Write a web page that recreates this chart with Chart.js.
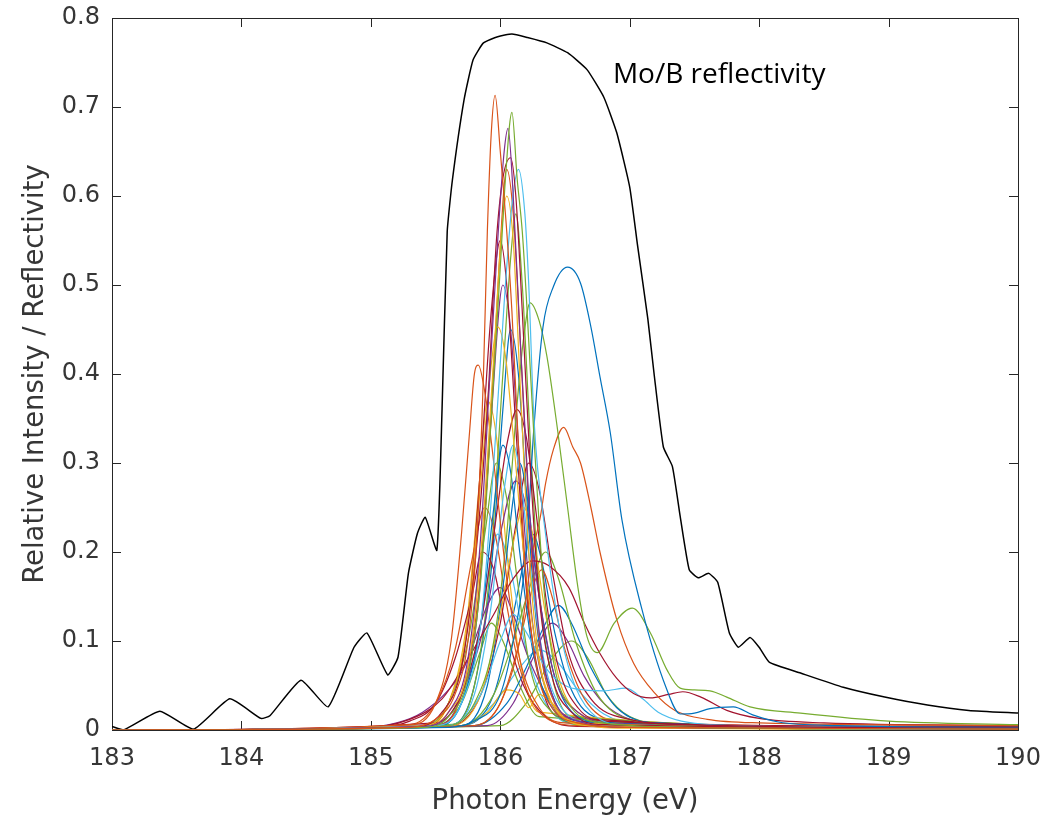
<!DOCTYPE html>
<html><head><meta charset="utf-8">
<script src="https://cdn.jsdelivr.net/npm/chart.js@4/dist/chart.umd.min.js"></script>
<style>html,body{margin:0;padding:0;background:#fff;}#wrap{width:1064px;height:820px;}</style>
</head><body><div id="wrap"><canvas id="c" width="1064" height="820"></canvas></div>
<script>
// ---- axis ticks ----
const xTickValues = [183,184,185,186,187,188,189,190];
const xTickLabels = ['183','184','185','186','187','188','189','190'];
const yTickValues = [0,0.1,0.2,0.3,0.4,0.5,0.6,0.7,0.8];
const yTickLabels = ['0','0.1','0.2','0.3','0.4','0.5','0.6','0.7','0.8'];
const xTitle = 'Photon Energy (eV)';
const yTitle = 'Relative Intensity / Reflectivity';
const annotationText = 'Mo/B reflectivity';
const annotationPos = [186.87, 0.736];

// ---- Mo/B reflectivity (black) ----
const moBEnergy = [183.0,183.09,183.37,183.63,183.91,184.15,184.22,184.46,184.67,184.87,184.97,185.13,185.21,185.29,185.36,185.42,185.51,185.55,185.59,185.63,185.72,185.79,185.87,185.98,186.09,186.21,186.36,186.52,186.67,186.80,186.90,187.0,187.06,187.14,187.19,187.26,187.33,187.39,187.46,187.53,187.61,187.68,187.77,187.84,187.93,188.0,188.08,188.32,188.65,188.97,189.3,189.62,190.0];
const moBReflectivity = [0.004,0.0,0.021,0.001,0.035,0.013,0.016,0.056,0.026,0.093,0.109,0.062,0.082,0.176,0.221,0.239,0.202,0.36,0.56,0.618,0.708,0.753,0.772,0.779,0.782,0.778,0.772,0.761,0.742,0.711,0.671,0.610,0.545,0.462,0.398,0.318,0.296,0.240,0.180,0.171,0.176,0.166,0.109,0.093,0.104,0.093,0.076,0.064,0.048,0.037,0.028,0.022,0.019];

// ---- relative intensity spectra: [energy, intensity] ----
const s01 = [[183,0],[185.3,0.003],[185.5,0.012],[185.65,0.04],[185.75,0.1],[185.82,0.22],[185.87,0.4],[185.9,0.56],[185.93,0.67],[185.96,0.713],[186.0,0.65],[186.05,0.56],[186.09,0.47],[186.14,0.32],[186.2,0.17],[186.28,0.07],[186.4,0.025],[186.6,0.008],[187,0.003],[190,0.001]];
const s02 = [[183,0],[185.4,0.003],[185.6,0.015],[185.75,0.06],[185.85,0.17],[185.93,0.35],[186.0,0.52],[186.04,0.62],[186.09,0.694],[186.13,0.62],[186.17,0.56],[186.2,0.49],[186.26,0.33],[186.33,0.17],[186.42,0.07],[186.55,0.025],[186.8,0.008],[187.5,0.003],[190,0.001]];
const s03 = [[183,0],[185.4,0.004],[185.6,0.02],[185.75,0.08],[185.85,0.22],[185.92,0.4],[185.98,0.55],[186.03,0.65],[186.06,0.676],[186.1,0.6],[186.15,0.45],[186.22,0.26],[186.3,0.11],[186.4,0.04],[186.6,0.01],[187,0.003],[190,0.001]];
const s04 = [[183,0],[185.3,0.003],[185.55,0.02],[185.7,0.07],[185.8,0.18],[185.9,0.36],[185.97,0.55],[186.02,0.62],[186.08,0.643],[186.12,0.6],[186.17,0.47],[186.23,0.3],[186.3,0.15],[186.4,0.06],[186.55,0.02],[186.8,0.006],[190,0.002]];
const s05 = [[183,0],[185.5,0.005],[185.7,0.03],[185.85,0.12],[185.95,0.3],[186.03,0.48],[186.09,0.59],[186.14,0.63],[186.19,0.58],[186.22,0.5],[186.26,0.35],[186.35,0.22],[186.45,0.12],[186.55,0.06],[186.7,0.02],[187,0.005],[190,0.001]];
const s06 = [[183,0],[185.4,0.003],[185.6,0.02],[185.75,0.07],[185.85,0.2],[185.95,0.42],[186.01,0.56],[186.05,0.6],[186.1,0.55],[186.15,0.4],[186.22,0.2],[186.3,0.08],[186.45,0.02],[186.7,0.005],[190,0.001]];
const s07 = [[183,0],[185.4,0.005],[185.6,0.03],[185.75,0.12],[185.85,0.28],[185.93,0.41],[185.98,0.453],[186.04,0.42],[186.1,0.33],[186.18,0.2],[186.28,0.09],[186.4,0.03],[186.6,0.008],[190,0.001]];
const s08 = [[183,0],[185.3,0.006],[185.5,0.03],[185.62,0.1],[185.7,0.22],[185.76,0.33],[185.8,0.4],[185.83,0.41],[185.88,0.38],[185.95,0.3],[186.05,0.17],[186.15,0.08],[186.3,0.025],[186.5,0.008],[190,0.001]];
const s09 = [[183,0],[185.6,0.003],[185.8,0.01],[186.0,0.04],[186.1,0.1],[186.2,0.2],[186.26,0.34],[186.33,0.453],[186.41,0.498],[186.52,0.52],[186.62,0.502],[186.7,0.453],[186.77,0.397],[186.85,0.334],[186.94,0.236],[187.09,0.138],[187.28,0.048],[187.39,0.018],[187.5,0.019],[187.62,0.024],[187.8,0.026],[187.95,0.017],[188.15,0.009],[188.6,0.005],[190,0.003]];
const s10 = [[183,0],[185.6,0.005],[185.8,0.03],[185.95,0.1],[186.05,0.22],[186.12,0.35],[186.18,0.44],[186.23,0.48],[186.3,0.46],[186.36,0.42],[186.44,0.34],[186.52,0.25],[186.6,0.16],[186.67,0.105],[186.75,0.087],[186.88,0.12],[187.02,0.137],[187.16,0.109],[187.29,0.067],[187.39,0.047],[187.5,0.045],[187.62,0.044],[187.75,0.037],[187.93,0.026],[188.32,0.019],[189,0.01],[190,0.006]];
const s11 = [[183,0],[185.8,0.005],[186.0,0.03],[186.15,0.1],[186.25,0.2],[186.31,0.24],[186.35,0.277],[186.41,0.315],[186.49,0.34],[186.56,0.318],[186.62,0.3],[186.7,0.25],[186.77,0.2],[186.9,0.124],[187.03,0.075],[187.19,0.042],[187.35,0.022],[187.6,0.012],[188,0.008],[190,0.005]];
const s12 = [[183,0],[185.5,0.008],[185.7,0.04],[185.85,0.12],[185.95,0.22],[186.05,0.32],[186.13,0.36],[186.2,0.33],[186.28,0.24],[186.36,0.14],[186.45,0.07],[186.6,0.025],[186.8,0.01],[190,0.002]];
const s13 = [[183,0],[184.9,0.002],[185.3,0.012],[185.55,0.035],[185.75,0.08],[185.95,0.13],[186.1,0.17],[186.25,0.19],[186.37,0.185],[186.53,0.16],[186.65,0.12],[186.77,0.086],[186.9,0.058],[187.03,0.041],[187.16,0.036],[187.3,0.04],[187.41,0.043],[187.55,0.037],[187.75,0.022],[188.0,0.013],[188.5,0.008],[190,0.005]];
const s14 = [[183,0],[185.6,0.005],[185.85,0.04],[186.0,0.1],[186.1,0.13],[186.2,0.11],[186.35,0.07],[186.5,0.05],[186.65,0.045],[186.8,0.044],[186.97,0.047],[187.1,0.035],[187.22,0.02],[187.4,0.01],[187.8,0.005],[190,0.002]];
const s15 = [[183,0],[185.5,0.004],[185.7,0.03],[185.85,0.12],[185.95,0.25],[186.02,0.32],[186.08,0.29],[186.15,0.2],[186.25,0.09],[186.38,0.03],[186.6,0.008],[190,0.001]];
const s16 = [[183,0],[185.6,0.005],[185.8,0.04],[185.93,0.14],[186.03,0.27],[186.1,0.32],[186.16,0.28],[186.24,0.17],[186.35,0.07],[186.5,0.02],[186.8,0.005],[190,0.001]];
const s17 = [[183,0],[185.4,0.004],[185.6,0.03],[185.75,0.1],[185.88,0.22],[185.97,0.3],[186.05,0.26],[186.13,0.17],[186.23,0.07],[186.4,0.02],[186.7,0.005],[190,0.001]];
const s18 = [[183,0],[185.5,0.006],[185.7,0.04],[185.88,0.12],[186.0,0.22],[186.12,0.28],[186.2,0.25],[186.3,0.15],[186.42,0.06],[186.6,0.02],[187,0.005],[190,0.002]];
const s19 = [[183,0],[185.6,0.004],[185.85,0.04],[186.0,0.13],[186.1,0.21],[186.18,0.25],[186.25,0.22],[186.35,0.13],[186.47,0.05],[186.65,0.015],[187,0.004],[190,0.001]];
const s20 = [[183,0],[185.7,0.005],[185.9,0.05],[186.02,0.16],[186.1,0.26],[186.15,0.3],[186.21,0.26],[186.3,0.15],[186.42,0.06],[186.6,0.015],[187,0.004],[190,0.001]];
const s21 = [[183,0],[185.3,0.006],[185.5,0.03],[185.65,0.09],[185.78,0.19],[185.88,0.25],[185.96,0.22],[186.05,0.14],[186.15,0.07],[186.3,0.02],[186.6,0.005],[190,0.001]];
const s22 = [[183,0],[185.6,0.004],[185.85,0.04],[186.0,0.12],[186.12,0.23],[186.22,0.3],[186.3,0.27],[186.4,0.18],[186.52,0.09],[186.7,0.035],[187,0.012],[187.5,0.006],[190,0.004]];
const s23 = [[183,0],[185.7,0.005],[185.95,0.04],[186.1,0.1],[186.25,0.17],[186.35,0.2],[186.45,0.17],[186.58,0.1],[186.75,0.04],[187,0.012],[187.5,0.005],[190,0.003]];
const s24 = [[183,0],[185.8,0.005],[186.05,0.03],[186.2,0.07],[186.35,0.12],[186.45,0.14],[186.55,0.12],[186.7,0.07],[186.9,0.025],[187.2,0.008],[190,0.002]];
const s25 = [[183,0],[185.7,0.005],[185.9,0.02],[186.05,0.045],[186.15,0.04],[186.22,0.025],[186.3,0.04],[186.4,0.03],[186.55,0.01],[187,0.002],[190,0]];
const s26 = [[183,0],[184.9,0.002],[185.2,0.008],[185.4,0.02],[185.6,0.045],[185.72,0.07],[185.8,0.1],[185.9,0.14],[186.0,0.16],[186.1,0.13],[186.22,0.08],[186.4,0.03],[186.7,0.008],[190,0.002]];
const s27 = [[183,0],[185.0,0.002],[185.3,0.01],[185.5,0.03],[185.65,0.08],[185.78,0.15],[185.86,0.2],[185.95,0.18],[186.05,0.11],[186.18,0.05],[186.35,0.015],[186.6,0.004],[190,0.001]];
const s28 = [[183,0],[185.5,0.005],[185.7,0.04],[185.83,0.15],[185.92,0.33],[185.99,0.52],[186.05,0.63],[186.1,0.58],[186.15,0.45],[186.22,0.25],[186.3,0.1],[186.42,0.03],[186.6,0.008],[190,0.001]];
const s29 = [[183,0],[185.4,0.005],[185.6,0.03],[185.75,0.12],[185.85,0.3],[185.93,0.47],[186.0,0.55],[186.05,0.5],[186.12,0.34],[186.2,0.16],[186.3,0.06],[186.45,0.015],[190,0.001]];
const s30 = [[183,0],[185.6,0.006],[185.8,0.05],[185.92,0.18],[186.02,0.4],[186.08,0.53],[186.12,0.58],[186.17,0.5],[186.23,0.33],[186.3,0.16],[186.4,0.06],[186.55,0.015],[190,0.001]];
const s31 = [[183,0],[185.6,0.005],[185.8,0.05],[185.93,0.18],[186.02,0.36],[186.08,0.45],[186.14,0.4],[186.2,0.27],[186.28,0.12],[186.4,0.04],[186.6,0.01],[190,0.001]];
const s32 = [[183,0],[185.5,0.005],[185.7,0.04],[185.83,0.14],[185.93,0.35],[186.02,0.5],[186.08,0.45],[186.15,0.3],[186.25,0.12],[186.38,0.035],[186.6,0.008],[190,0.001]];
const s33 = [[183,0],[185.4,0.004],[185.6,0.03],[185.74,0.12],[185.84,0.28],[185.9,0.37],[185.97,0.33],[186.05,0.2],[186.15,0.08],[186.3,0.02],[190,0]];
const s34 = [[183,0],[185.5,0.004],[185.7,0.03],[185.85,0.12],[185.98,0.22],[186.08,0.18],[186.2,0.09],[186.35,0.03],[186.6,0.006],[190,0.001]];
const s35 = [[183,0],[185.5,0.005],[185.7,0.03],[185.85,0.09],[185.93,0.12],[186.02,0.1],[186.15,0.05],[186.3,0.015],[190,0]];
const s36 = [[183,0],[185.8,0.005],[186.0,0.03],[186.15,0.1],[186.25,0.16],[186.32,0.18],[186.4,0.15],[186.5,0.09],[186.65,0.035],[186.9,0.01],[190,0.003]];
const s37 = [[183,0],[185.7,0.005],[185.95,0.04],[186.1,0.13],[186.2,0.2],[186.25,0.22],[186.32,0.19],[186.42,0.11],[186.55,0.045],[186.75,0.013],[187.2,0.004],[190,0.002]];
const s38 = [[183,0],[185.9,0.005],[186.1,0.03],[186.25,0.08],[186.4,0.12],[186.52,0.1],[186.65,0.06],[186.8,0.03],[187,0.012],[187.4,0.004],[190,0.002]];
const s39 = [[183,0],[186.0,0.005],[186.2,0.03],[186.4,0.08],[186.55,0.1],[186.68,0.08],[186.82,0.04],[187.0,0.015],[187.4,0.005],[190,0.002]];
const s40 = [[183,0],[185.7,0.005],[185.95,0.03],[186.15,0.07],[186.3,0.09],[186.45,0.075],[186.6,0.045],[186.8,0.018],[187.1,0.006],[190,0.001]];

const BLUE='#0072BD', ORANGE='#D95319', YELLOW='#EDB120', PURPLE='#7E2F8E', GREEN='#77AC30', CYAN='#4DBEEE', DARKRED='#A2142F';
const spectra = [s01,s02,s03,s04,s05,s06,s07,s08,s09,s10,s11,s12,s13,s14,s15,s16,s17,s18,s19,s20,s21,s22,s23,s24,s25,s26,s27,s28,s29,s30,s31,s32,s33,s34,s35,s36,s37,s38,s39,s40];
const spectraColors = [ORANGE,GREEN,PURPLE,DARKRED,CYAN,YELLOW,YELLOW,ORANGE,BLUE,GREEN,ORANGE,DARKRED,DARKRED,CYAN,BLUE,CYAN,GREEN,PURPLE,YELLOW,BLUE,ORANGE,DARKRED,GREEN,BLUE,YELLOW,PURPLE,DARKRED,ORANGE,DARKRED,GREEN,BLUE,PURPLE,YELLOW,CYAN,GREEN,ORANGE,BLUE,PURPLE,GREEN,CYAN];

const AXIS_COLOR = '#363636';
const FONT = "'DejaVu Sans', sans-serif";

const datasets = spectra.map((s,i)=>({
  data: s.map(p=>({x:p[0], y:p[1]})),
  borderColor: spectraColors[i],
  borderWidth: 1.2,
  pointRadius: 0,
  fill: false,
  cubicInterpolationMode: 'monotone'
}));
datasets.push({
  data: moBEnergy.map((x,i)=>({x, y: moBReflectivity[i]})),
  borderColor: '#000000',
  borderWidth: 1.5,
  pointRadius: 0,
  fill: false,
  tension: 0.15
});

const boxPlugin = {
  id: 'boxTicks',
  beforeDatasetsDraw(chart){
    const {ctx, chartArea:a, scales:{x,y}} = chart;
    ctx.save();
    ctx.strokeStyle = '#262626';
    ctx.lineWidth = 1;
    ctx.strokeRect(Math.round(a.left)+0.5, Math.round(a.top)+0.5, Math.round(a.right-a.left), Math.round(a.bottom-a.top));
    const L = 9;
    ctx.beginPath();
    xTickValues.forEach(v=>{
      const px = Math.round(x.getPixelForValue(v))+0.5;
      ctx.moveTo(px, a.bottom); ctx.lineTo(px, a.bottom-L);
      ctx.moveTo(px, a.top); ctx.lineTo(px, a.top+L);
    });
    yTickValues.forEach(v=>{
      const py = Math.round(y.getPixelForValue(v))+0.5;
      ctx.moveTo(a.left, py); ctx.lineTo(a.left+L, py);
      ctx.moveTo(a.right, py); ctx.lineTo(a.right-L, py);
    });
    ctx.stroke();
    ctx.restore();
  },
  afterDatasetsDraw(chart){
    const {ctx, scales:{x,y}} = chart;
    ctx.save();
    ctx.fillStyle = '#000';
    ctx.font = "28px 'Open Sans', 'Noto Sans', sans-serif";
    ctx.textBaseline = 'middle';
    ctx.textAlign = 'left';
    ctx.fillText(annotationText, x.getPixelForValue(annotationPos[0]), y.getPixelForValue(annotationPos[1]));
    ctx.restore();
  }
};

new Chart(document.getElementById('c'), {
  type: 'line',
  data: { datasets },
  options: {
    responsive: false,
    animation: false,
    devicePixelRatio: 1,
    layout: { padding: { left: 0, right: 46, top: 18, bottom: 0 } },
    plugins: { legend: { display: false }, tooltip: { enabled: false } },
    scales: {
      x: {
        type: 'linear', min: 183, max: 190,
        afterBuildTicks: s => { s.ticks = xTickValues.map(v=>({value:v})); },
        afterFit: s => { s.height = 90; s.paddingLeft = 0; s.paddingRight = 0; },
        grid: { display: false, drawTicks: false },
        border: { display: false },
        ticks: { padding: 14, color: AXIS_COLOR, font: { family: FONT, size: 24 },
                 callback: (v) => xTickLabels[xTickValues.indexOf(v)] ?? '' , maxRotation: 0, autoSkip: false},
        title: { display: true, text: xTitle, color: AXIS_COLOR, font: { family: FONT, size: 27.5 }, padding: { top: 0, bottom: 2 } }
      },
      y: {
        type: 'linear', min: 0, max: 0.8,
        afterBuildTicks: s => { s.ticks = yTickValues.map(v=>({value:v})); },
        afterFit: s => { s.width = 112; s.paddingTop = 0; s.paddingBottom = 0; },
        grid: { display: false, drawTicks: false },
        border: { display: false },
        ticks: { padding: 12, color: AXIS_COLOR, font: { family: FONT, size: 24 },
                 callback: (v) => { const i = yTickValues.findIndex(t=>Math.abs(t-v)<1e-9); return i>=0 ? yTickLabels[i] : ''; }, autoSkip: false },
        title: { display: true, text: yTitle, color: AXIS_COLOR, font: { family: FONT, size: 27.5 }, padding: { top: 19, bottom: 0 } }
      }
    }
  },
  plugins: [boxPlugin]
});
</script>
</body></html>
